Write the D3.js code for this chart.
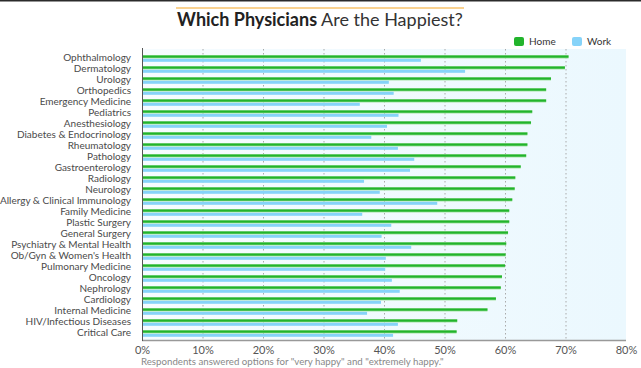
<!DOCTYPE html>
<html>
<head>
<meta charset="utf-8">
<script src="https://cdn.jsdelivr.net/npm/d3@7"></script>
<style>
  body { margin: 0; background: #fff; }
  svg { display: block; font-family: Lato, "Open Sans", sans-serif; }
</style>
</head>
<body>
<div id="chart"></div>
<script>
// Specialties, top to bottom
var specialties = ["Ophthalmology", "Dermatology", "Urology", "Orthopedics", "Emergency Medicine",
  "Pediatrics", "Anesthesiology", "Diabetes & Endocrinology", "Rheumatology", "Pathology",
  "Gastroenterology", "Radiology", "Neurology", "Allergy & Clinical Immunology", "Family Medicine",
  "Plastic Surgery", "General Surgery", "Psychiatry & Mental Health", "Ob/Gyn & Women's Health",
  "Pulmonary Medicine", "Oncology", "Nephrology", "Cardiology", "Internal Medicine",
  "HIV/Infectious Diseases", "Critical Care"];

// % happy at home
var homeValues = [70.5, 69.9, 67.6, 66.8, 66.8, 64.5, 64.3, 63.7, 63.7, 63.5, 62.6, 61.7, 61.6,
  61.2, 60.7, 60.7, 60.5, 60.2, 60.1, 60.0, 59.5, 59.3, 58.5, 57.1, 52.1, 52.0];

// % happy at work
var workValues = [46.1, 53.4, 40.8, 41.6, 36.0, 42.4, 40.5, 37.9, 42.3, 45.0, 44.3, 36.7, 39.3,
  48.8, 36.4, 41.2, 39.6, 44.5, 40.3, 40.2, 41.3, 42.6, 39.5, 37.2, 42.3, 41.5];

var xTicks = [0, 10, 20, 30, 40, 50, 60, 70, 80];

var W = 641, H = 368;
var svg = d3.select("#chart").append("svg").attr("width", W).attr("height", H);

// top border + title
svg.append("rect").attr("x", 0).attr("y", 0).attr("width", W).attr("height", 1.5).attr("fill", "#2b2b2b");
svg.append("rect").attr("x", 176).attr("y", 7.5).attr("width", 288).attr("height", 1).attr("fill", "#f5a623");

var title = svg.append("text").attr("x", 320).attr("y", 26).attr("text-anchor", "middle")
  .style("font-size", "18px").attr("fill", "#222");
title.append("tspan").attr("font-weight", "bold").text("Which Physicians");
title.append("tspan").attr("fill", "#333").text(" Are the Happiest?");

// scales
var x = d3.scaleLinear().domain([0, 80]).range([142, 626]);
var y = d3.scaleBand().domain(specialties).range([50.5, 336.5]);

// plot background
var grad = svg.append("defs").append("linearGradient").attr("id", "bg");
grad.append("stop").attr("offset", "0%").attr("stop-color", "#f6fcff");
grad.append("stop").attr("offset", "100%").attr("stop-color", "#ebf8fe");
svg.append("rect").attr("x", x(0)).attr("y", 49).attr("width", x(80) - x(0)).attr("height", 291)
  .attr("fill", "url(#bg)");

// gridlines
svg.append("g").selectAll("line").data(xTicks.slice(1, -1)).enter().append("line")
  .attr("x1", d => x(d) + 0.5).attr("x2", d => x(d) + 0.5)
  .attr("y1", 49).attr("y2", 340)
  .attr("stroke", "#aaa").attr("stroke-width", 1).attr("stroke-dasharray", "1.5,2.5");

// bars
var rows = svg.append("g").selectAll("g").data(specialties).enter().append("g")
  .attr("transform", d => "translate(0," + y(d) + ")");

rows.append("rect").attr("x", x(0)).attr("y", 4.5)
  .attr("width", (d, i) => x(homeValues[i]) - x(0)).attr("height", 3.5).attr("fill", "#a6e3a6");
rows.append("rect").attr("x", x(0)).attr("y", 5)
  .attr("width", (d, i) => x(homeValues[i]) - x(0)).attr("height", 2.2).attr("fill", "#22b42c");
rows.append("rect").attr("x", x(0)).attr("y", 8.3)
  .attr("width", (d, i) => x(workValues[i]) - x(0)).attr("height", 3).attr("fill", "#86d3f9");

// category labels
rows.append("text").attr("x", 131).attr("y", 6.5).attr("dy", "0.35em")
  .attr("text-anchor", "end").style("font-size", "10px").attr("fill", "#4a4a4a")
  .text(d => d);

// axes
svg.append("line").attr("x1", x(0)).attr("x2", x(80)).attr("y1", 340.5).attr("y2", 340.5)
  .attr("stroke", "#999").attr("stroke-width", 1.5);
svg.append("line").attr("x1", x(0) + 0.5).attr("x2", x(0) + 0.5).attr("y1", 48).attr("y2", 341)
  .attr("stroke", "#555").attr("stroke-width", 1);

var xAxis = d3.axisBottom(x).tickValues(xTicks).tickFormat(d => d + "%").tickSize(0).tickPadding(5);
var gx = svg.append("g").attr("transform", "translate(0,341)").call(xAxis);
gx.select(".domain").remove();
gx.selectAll("text").style("font-size", "11px").attr("fill", "#555").style("font-family", "Lato, sans-serif");

svg.append("text").attr("x", 141).attr("y", 365).style("font-size", "9.7px").attr("fill", "#888")
  .text('Respondents answered options for "very happy" and "extremely happy."');

// legend
var legend = [["Home", "#22b42c", 514], ["Work", "#86d3f9", 572]];
var lg = svg.append("g").selectAll("g").data(legend).enter().append("g")
  .attr("transform", d => "translate(" + d[2] + ",37)");
lg.append("rect").attr("width", 10).attr("height", 9).attr("rx", 2).attr("fill", d => d[1]);
lg.append("text").attr("x", 15).attr("y", 4.5).attr("dy", "0.35em")
  .style("font-size", "10px").attr("fill", "#333").text(d => d[0]);
</script>
</body>
</html>
